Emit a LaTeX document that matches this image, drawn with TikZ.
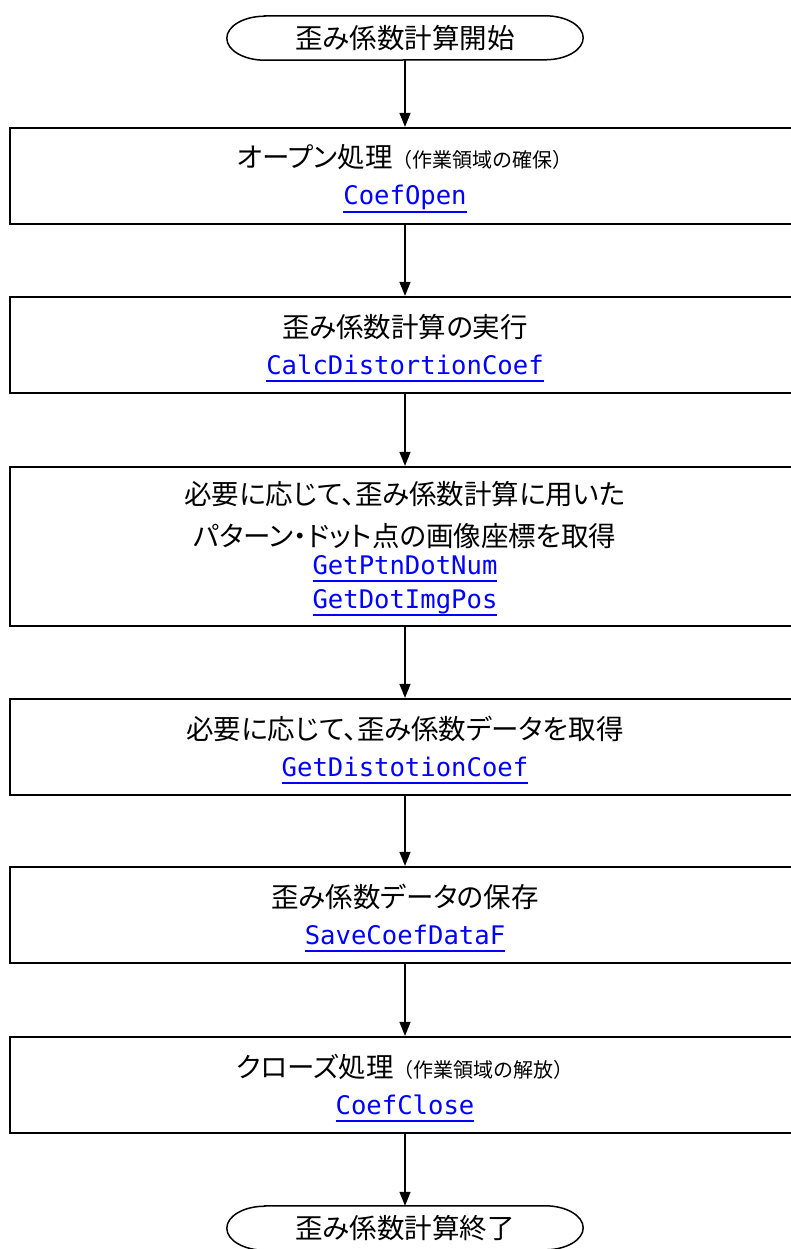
\documentclass[tikz,border=0pt]{standalone}
\usepackage{fontspec}
\usetikzlibrary{arrows.meta}
\newfontfamily\jp[RawFeature={+palt}]{Noto Sans CJK JP}
\newfontfamily\jpfull{Noto Sans CJK JP}
\newfontfamily\mono{DejaVu Sans Mono}
\definecolor{linkblue}{RGB}{0,0,255}
\newcommand\lnk[1]{{\color{linkblue}\mono\fontsize{25.6}{30}\selectfont\vtop{\hbox{#1\vphantom{p}}\kern0.6pt\hrule height 1.8pt}}}
\newcommand\smallpar[1]{{\jpfull\fontsize{20}{24}\selectfont #1}}
\tikzset{
  procbox/.style={draw, line width=2.2pt, rectangle, minimum width=790pt, inner sep=0pt},
  jptext/.style={anchor=base, inner sep=0pt, font=\jp\fontsize{27.5}{32}\selectfont},
  codetext/.style={anchor=base, inner sep=0pt},
  termnode/.style={inner sep=0pt, minimum width=356pt, minimum height=44pt, font=\jp\fontsize{27.5}{32}\selectfont},
  termline/.style={line width=1.5pt},
  flow/.style={line width=1.3pt, -{Triangle[length=14pt,width=11pt]}},
}
\begin{document}
\begin{tikzpicture}[x=1pt,y=-1pt]
\useasboundingbox (0,0) rectangle (790,1249);
% terminators
\node[termnode] (start) at (405,38) {歪み係数計算開始};
\draw[termline] ([xshift=38pt]start.north west) -- ([xshift=-38pt]start.north east)
  arc[start angle=90,end angle=-90,x radius=38pt,y radius=22pt]
  -- ([xshift=38pt]start.south west)
  arc[start angle=270,end angle=90,x radius=38pt,y radius=22pt] -- cycle;
\node[termnode] (end) at (405,1228) {歪み係数計算終了};
\draw[termline] ([xshift=38pt]end.north west) -- ([xshift=-38pt]end.north east)
  arc[start angle=90,end angle=-90,x radius=38pt,y radius=22pt]
  -- ([xshift=38pt]end.south west)
  arc[start angle=270,end angle=90,x radius=38pt,y radius=22pt] -- cycle;
% process boxes
\node[procbox, minimum height=96pt] (b1) at (405,176) {};
\node[jptext] (b1t) at (405,168) {オープン処理\smallpar{（作業領域の確保）}};
\node[codetext] (b1c) at (405,205) {\lnk{CoefOpen}};

\node[procbox, minimum height=96pt] (b2) at (405,345) {};
\node[jptext] (b2t) at (405,337) {歪み係数計算の実行};
\node[codetext] (b2c) at (405,374) {\lnk{CalcDistortionCoef}};

\node[procbox, minimum height=159pt] (b3) at (405,546.5) {};
\node[jptext] (b3t1) at (405,504) {必要に応じて、歪み係数計算に用いた};
\node[jptext] (b3t2) at (405,546) {パターン・ドット点の画像座標を取得};
\node[codetext] (b3c1) at (405,574) {\lnk{GetPtnDotNum}};
\node[codetext] (b3c2) at (405,608) {\lnk{GetDotImgPos}};

\node[procbox, minimum height=96pt] (b4) at (405,747) {};
\node[jptext] (b4t) at (405,739) {必要に応じて、歪み係数データを取得};
\node[codetext] (b4c) at (405,776) {\lnk{GetDistotionCoef}};

\node[procbox, minimum height=96pt] (b5) at (405,915) {};
\node[jptext] (b5t) at (405,907) {歪み係数データの保存};
\node[codetext] (b5c) at (405,944) {\lnk{SaveCoefDataF}};

\node[procbox, minimum height=96pt] (b6) at (405,1085) {};
\node[jptext] (b6t) at (405,1077) {クローズ処理\smallpar{（作業領域の解放）}};
\node[codetext] (b6c) at (405,1114) {\lnk{CoefClose}};
% connectors
\draw[flow] (start.south) -- (b1.north);
\draw[flow] (b1.south) -- (b2.north);
\draw[flow] (b2.south) -- (b3.north);
\draw[flow] (b3.south) -- (b4.north);
\draw[flow] (b4.south) -- (b5.north);
\draw[flow] (b5.south) -- (b6.north);
\draw[flow] (b6.south) -- (end.north);
\end{tikzpicture}
\end{document}
